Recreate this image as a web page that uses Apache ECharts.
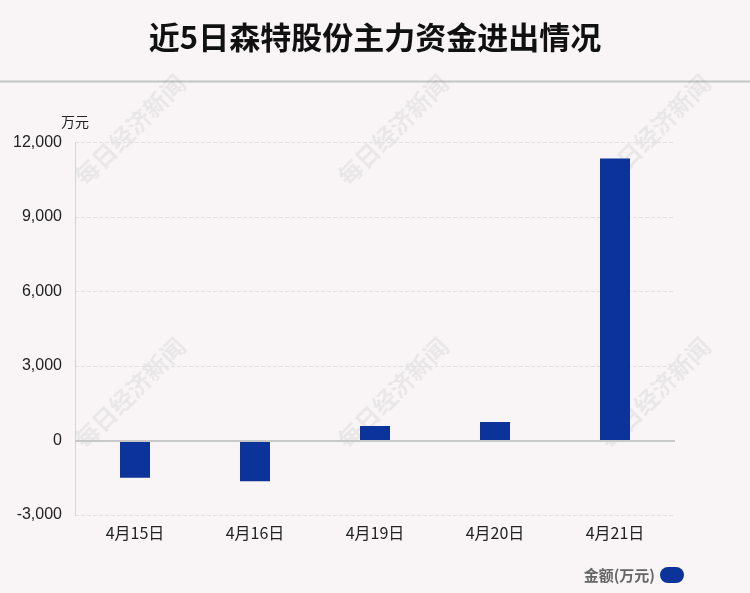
<!DOCTYPE html>
<html><head><meta charset="utf-8">
<script src="https://cdn.jsdelivr.net/npm/echarts@6/dist/echarts.min.js"></script>
<style>html,body{margin:0;padding:0;background:#f9f5f6;}#c{width:750px;height:593px;}</style>
</head><body><div id="c"></div>
<script>
const categories = ['4月15日','4月16日','4月19日','4月20日','4月21日'];
const amounts = [-1500, -1640, 585, 745, 11360];
const yTicks = [-3000, 0, 3000, 6000, 9000, 12000];

const chart = echarts.init(document.getElementById('c'));
const wmPos = [[130,130],[393,130],[655,130],[130,393],[393,393],[655,393]];
const wm = wmPos.map(p => ({
  type:'text', x:p[0], y:p[1], rotation: Math.PI/4, silent:true, z:0,
  style:{text:'每日经济新闻', fill:'rgba(150,150,150,0.14)', font:'bold 24px "Noto Sans CJK SC"', align:'center', verticalAlign:'middle'}
}));
chart.setOption({
  backgroundColor:'#f9f5f6',
  title:{text:'近5日森特股份主力资金进出情况', left:'center', top:17,
    textStyle:{fontSize:31, fontWeight:'bold', color:'#111', fontFamily:'"Noto Sans CJK SC"'}},
  graphic:[{type:'line', shape:{x1:0,y1:81.5,x2:750,y2:81.5}, style:{stroke:'#c4c4c4', lineWidth:2}}].concat(wm),
  legend:{right:61, bottom:5, itemWidth:24, itemHeight:16, icon:'path://M8,0 L16,0 A8,8 0 0 1 16,16 L8,16 A8,8 0 0 1 8,0 Z', itemGap:6,
    align:'right', data:[{name:'金额(万元)'}],
    textStyle:{fontSize:15, color:'#666', fontWeight:'bold', fontFamily:'"Noto Sans CJK SC"'}},
  grid:{left:75, right:75, top:142.5, bottom:78},
  xAxis:{type:'category', data:categories,
    axisLine:{show:false}, axisTick:{show:false},
    axisLabel:{fontSize:16, color:'#222', margin:10, fontFamily:'"Noto Sans CJK SC"'}},
  yAxis:{type:'value', min:yTicks[0], max:yTicks[yTicks.length-1], interval:3000,
    name:'万元', nameLocation:'end', nameGap:14,
    nameTextStyle:{fontSize:14, color:'#222', align:'center', fontFamily:'"Noto Sans CJK SC"'},
    axisLine:{show:true, lineStyle:{color:'#d4d4d4'}}, axisTick:{show:false},
    axisLabel:{fontSize:16, color:'#222', margin:13, fontFamily:'Liberation Sans',
      formatter: v => v.toLocaleString('en-US')},
    splitLine:{lineStyle:{type:'dashed', color:'#e0e0e0'}}},
  series:[{name:'金额(万元)', type:'bar', data:amounts, barWidth:30,
    itemStyle:{color:'#0c3399'},
    markLine:{silent:true, symbol:'none', label:{show:false},
      lineStyle:{color:'#c8c8c8', type:'solid', width:2}, data:[{yAxis:0}]}}]
});
</script></body></html>
